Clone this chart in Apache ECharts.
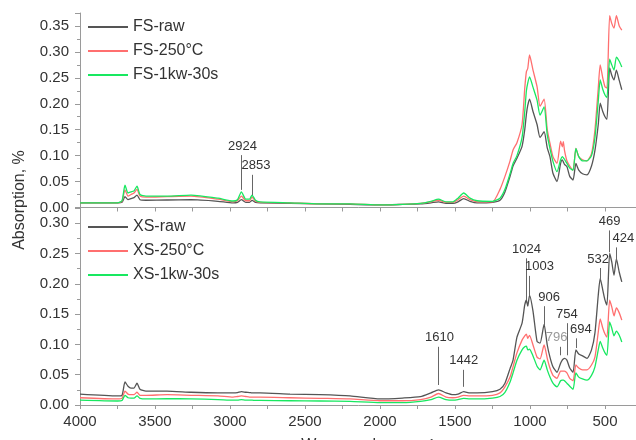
<!DOCTYPE html>
<html>
<head>
<meta charset="utf-8">
<title>FTIR</title>
<script src="https://cdn.jsdelivr.net/npm/echarts@6/dist/echarts.min.js"></script>
<style>
    html, body { margin: 0; padding: 0; background: #fff; }
    #main { width: 636px; height: 440px; }
</style>
</head>
<body>
<div id="main"></div>
<script>
    // 波数 (cm-1)
    var wn = [4000, 3750, 3720, 3700, 3680, 3660, 3640, 3620, 3600, 3560, 3420, 3260, 3080, 2980, 2950, 2924,
        2895, 2870, 2853, 2830, 2800, 2600, 2400, 2200, 2000, 1850, 1730, 1660, 1610, 1560, 1513, 1480, 1442,
        1400, 1353, 1250, 1200, 1167, 1133, 1113, 1087, 1053, 1035, 1024, 1015, 1003, 980, 953, 933, 906, 885,
        867, 847, 820, 796, 785, 778, 770, 754, 735, 713, 694, 675, 650, 620, 590, 567, 545, 532, 515, 500, 487,
        469, 455, 440, 424, 405, 388];

    // FS
    var fsRaw = [0.009, 0.009, 0.010, 0.021, 0.015, 0.017, 0.019, 0.024, 0.015, 0.014, 0.0145, 0.015, 0.012, 0.009, 0.010, 0.015,
        0.010, 0.010, 0.0136, 0.010, 0.009, 0.008, 0.007, 0.006, 0.005, 0.006, 0.007, 0.009, 0.011, 0.008, 0.008, 0.011, 0.017,
        0.012, 0.009, 0.010, 0.014, 0.030, 0.060, 0.080, 0.095, 0.118, 0.150, 0.180, 0.197, 0.209, 0.185, 0.160, 0.135, 0.146, 0.115,
        0.098, 0.066, 0.050, 0.085, 0.092, 0.088, 0.083, 0.079, 0.060, 0.053, 0.085, 0.072, 0.065, 0.063, 0.080, 0.110, 0.160, 0.201, 0.185, 0.175, 0.170,
        0.269, 0.255, 0.246, 0.265, 0.245, 0.227];
    var fs250 = [0.009, 0.009, 0.012, 0.034, 0.022, 0.025, 0.028, 0.035, 0.022, 0.020, 0.021, 0.022, 0.016, 0.011, 0.013, 0.022,
        0.013, 0.013, 0.020, 0.012, 0.010, 0.009, 0.007, 0.007, 0.005, 0.006, 0.008, 0.011, 0.014, 0.010, 0.010, 0.015, 0.022,
        0.015, 0.011, 0.011, 0.035, 0.060, 0.090, 0.111, 0.125, 0.160, 0.230, 0.262, 0.268, 0.294, 0.265, 0.233, 0.195, 0.209, 0.150,
        0.124, 0.098, 0.085, 0.128, 0.117, 0.127, 0.110, 0.090, 0.080, 0.072, 0.114, 0.098, 0.092, 0.090, 0.104, 0.150, 0.230, 0.275, 0.250, 0.233, 0.230,
        0.370, 0.355, 0.346, 0.370, 0.350, 0.342];
    var fs1kw = [0.009, 0.009, 0.013, 0.043, 0.028, 0.030, 0.032, 0.041, 0.025, 0.022, 0.022, 0.024, 0.018, 0.0125, 0.015, 0.030,
        0.016, 0.016, 0.024, 0.014, 0.011, 0.009, 0.007, 0.007, 0.005, 0.006, 0.008, 0.012, 0.016, 0.011, 0.011, 0.018, 0.028,
        0.018, 0.013, 0.012, 0.018, 0.035, 0.065, 0.085, 0.100, 0.135, 0.185, 0.225, 0.240, 0.252, 0.232, 0.207, 0.178, 0.194, 0.140,
        0.114, 0.089, 0.069, 0.092, 0.098, 0.096, 0.093, 0.085, 0.076, 0.072, 0.114, 0.098, 0.090, 0.090, 0.100, 0.135, 0.205, 0.246, 0.228, 0.217, 0.212,
        0.286, 0.275, 0.265, 0.290, 0.282, 0.271];

    // XS
    var xsRaw = [0.018, 0.015, 0.016, 0.038, 0.031, 0.028, 0.028, 0.036, 0.026, 0.023, 0.023, 0.021, 0.020, 0.020, 0.0205, 0.022,
        0.021, 0.0205, 0.020, 0.020, 0.020, 0.018, 0.017, 0.015, 0.010, 0.0115, 0.0137, 0.020, 0.025, 0.020, 0.017, 0.018, 0.022,
        0.020, 0.020, 0.022, 0.026, 0.036, 0.060, 0.074, 0.112, 0.135, 0.165, 0.173, 0.163, 0.181, 0.155, 0.105, 0.102, 0.133, 0.099,
        0.079, 0.063, 0.054, 0.069, 0.074, 0.076, 0.077, 0.074, 0.061, 0.054, 0.091, 0.084, 0.081, 0.077, 0.091, 0.119, 0.181, 0.209, 0.190, 0.173, 0.165,
        0.250, 0.236, 0.214, 0.241, 0.219, 0.203];
    var xs250 = [0.012, 0.010, 0.011, 0.023, 0.018, 0.017, 0.017, 0.021, 0.016, 0.016, 0.017, 0.016, 0.015, 0.013, 0.014, 0.015,
        0.014, 0.013, 0.013, 0.013, 0.013, 0.012, 0.011, 0.010, 0.007, 0.007, 0.009, 0.013, 0.019, 0.013, 0.012, 0.013, 0.016,
        0.015, 0.015, 0.016, 0.020, 0.030, 0.046, 0.063, 0.086, 0.107, 0.114, 0.117, 0.110, 0.115, 0.099, 0.079, 0.076, 0.099, 0.077,
        0.061, 0.049, 0.044, 0.056, 0.056, 0.056, 0.056, 0.053, 0.044, 0.040, 0.066, 0.061, 0.058, 0.058, 0.066, 0.079, 0.120, 0.142, 0.127, 0.117, 0.112,
        0.173, 0.162, 0.147, 0.160, 0.152, 0.140];
    var xs1kw = [0.008, 0.0066, 0.0075, 0.016, 0.012, 0.0115, 0.0115, 0.015, 0.011, 0.010, 0.0105, 0.010, 0.009, 0.008, 0.008, 0.009,
        0.008, 0.008, 0.008, 0.0075, 0.0075, 0.007, 0.0066, 0.006, 0.004, 0.004, 0.006, 0.009, 0.013, 0.009, 0.008, 0.009, 0.011,
        0.010, 0.010, 0.0115, 0.014, 0.021, 0.038, 0.053, 0.074, 0.091, 0.096, 0.097, 0.091, 0.092, 0.081, 0.064, 0.058, 0.074, 0.058,
        0.046, 0.036, 0.030, 0.040, 0.041, 0.041, 0.040, 0.036, 0.031, 0.026, 0.053, 0.046, 0.043, 0.041, 0.049, 0.063, 0.091, 0.105, 0.094, 0.086, 0.082,
        0.137, 0.127, 0.114, 0.122, 0.115, 0.104];

    var fsNames = ['FS-raw', 'FS-250°C', 'FS-1kw-30s'];
    var xsNames = ['XS-raw', 'XS-250°C', 'XS-1kw-30s'];

    // 峰标注: 波数, 引线上端, 引线下端
    var fsPeakWn = [2924, 2853];
    var fsPeakTop = [0.101, 0.063];
    var fsPeakBottom = [0.034, 0.024];
    var xsPeakWn = [1610, 1442, 1024, 1003, 906, 796, 754, 694, 532, 469, 424];
    var xsPeakTop = [0.096, 0.058, 0.242, 0.213, 0.163, 0.096, 0.135, 0.110, 0.226, 0.288, 0.260];
    var xsPeakBottom = [0.033, 0.030, 0.173, 0.181, 0.132, 0.082, 0.082, 0.094, 0.206, 0.252, 0.236];

    // 刻度
    var xTickLabels = [4000, 3500, 3000, 2500, 2000, 1500, 1000, 500];
    var yTickLabels = [0, 0.05, 0.10, 0.15, 0.20, 0.25, 0.30, 0.35];

    var FONT = '"Liberation Sans", Arial, sans-serif';
    var colors = ['#555555', '#ff6f6f', '#18e860'];
    var fsLabelDx = [1, 4];
    var xsLabelDx = [1, 0, 0, 10, 5, -4, 0, 5, -2, 0, 7];

    function pairs(ys) {
        return wn.map(function (w, i) {
            return [w, ys[i]];
        });
    }

    function peakLines(xs, top, bottom) {
        return xs.map(function (x, i) {
            return [{ coord: [x, top[i]] }, { coord: [x, bottom[i]] }];
        });
    }

    function peakTexts(xs, top, dx) {
        return xs.map(function (x, i) {
            return {
                name: String(x),
                coord: [x, top[i]],
                label: {
                    offset: [dx[i], -9],
                    color: x === 796 ? '#9a9a9a' : '#333'
                }
            };
        });
    }

    function lineSeries(name, ys, k, idx) {
        return {
            name: name,
            type: 'line',
            xAxisIndex: idx,
            yAxisIndex: idx,
            data: pairs(ys),
            symbol: 'none',
            smooth: 0.2,
            lineStyle: { color: colors[k], width: 1.3 },
            itemStyle: { color: colors[k] }
        };
    }

    function peakMarks(s, xs, top, bottom, dx) {
        s.markLine = {
            silent: true,
            symbol: ['none', 'none'],
            label: { show: false },
            lineStyle: { color: '#666', width: 1, type: 'solid' },
            data: peakLines(xs, top, bottom)
        };
        s.markPoint = {
            silent: true,
            symbol: 'rect',
            symbolSize: 1,
            itemStyle: { color: 'rgba(0,0,0,0)' },
            label: {
                show: true,
                position: 'inside',
                formatter: '{b}',
                fontSize: 13,
                fontFamily: FONT
            },
            data: peakTexts(xs, top, dx)
        };
        return s;
    }

    var series = [
        peakMarks(lineSeries(fsNames[0], fsRaw, 0, 0), fsPeakWn, fsPeakTop, fsPeakBottom, fsLabelDx),
        lineSeries(fsNames[1], fs250, 1, 0),
        lineSeries(fsNames[2], fs1kw, 2, 0),
        peakMarks(lineSeries(xsNames[0], xsRaw, 0, 1), xsPeakWn, xsPeakTop, xsPeakBottom, xsLabelDx),
        lineSeries(xsNames[1], xs250, 1, 1),
        lineSeries(xsNames[2], xs1kw, 2, 1)
    ];

    function yFmt(v) {
        for (var i = 0; i < yTickLabels.length; i++) {
            if (Math.abs(yTickLabels[i] - v) < 1e-6) return v.toFixed(2);
        }
        return '';
    }

    function xFmt(v) {
        return xTickLabels.indexOf(Math.round(v)) > -1 ? String(Math.round(v)) : '';
    }

    var axisGray = '#9a9a9a';

    function xAxisOf(idx, showLabel) {
        return {
            gridIndex: idx,
            type: 'value',
            inverse: true,
            min: 250,
            max: 4000,
            interval: 250,
            axisLine: { onZero: false, lineStyle: { color: axisGray } },
            axisTick: { length: 4, lineStyle: { color: axisGray } },
            axisLabel: { show: showLabel, formatter: xFmt, fontSize: 15, color: '#333', fontFamily: FONT, margin: 9 },
            splitLine: { show: false }
        };
    }

    function yAxisOf(idx, max) {
        return {
            gridIndex: idx,
            type: 'value',
            min: 0,
            max: max,
            interval: 0.05,
            axisLine: { show: true, onZero: false, lineStyle: { color: axisGray } },
            axisTick: { show: true, length: 5, lineStyle: { color: axisGray } },
            minorTick: { show: true, splitNumber: 2, length: 3, lineStyle: { color: axisGray } },
            axisLabel: { formatter: yFmt, fontSize: 15, color: '#333', fontFamily: FONT, margin: 11 },
            splitLine: { show: false },
            minorSplitLine: { show: false }
        };
    }

    function legendOf(names, top) {
        return {
            data: names,
            orient: 'vertical',
            left: 88,
            top: top,
            padding: 0,
            icon: 'rect',
            itemWidth: 40,
            itemHeight: 2,
            itemGap: 8,
            textStyle: { fontSize: 16, color: '#333', fontFamily: FONT, lineHeight: 16 }
        };
    }

    var chart = echarts.init(document.getElementById('main'));

    var option = {
        animation: false,
        backgroundColor: '#fff',
        grid: [
            { left: 80, top: 13, width: 562.5, height: 194.5, outerBoundsMode: 'none' },
            { left: 80, top: 208, width: 562.5, height: 197, outerBoundsMode: 'none' }
        ],
        xAxis: [xAxisOf(0, false), xAxisOf(1, true)],
        yAxis: [yAxisOf(0, 0.375), yAxisOf(1, 0.325)],
        legend: [legendOf(fsNames, 19), legendOf(xsNames, 219)],
        graphic: [
            {
                type: 'text',
                x: 20,
                y: 200,
                rotation: Math.PI / 2,
                style: {
                    text: 'Absorption, %',
                    fill: '#333',
                    fontSize: 16,
                    fontFamily: FONT,
                    align: 'center',
                    verticalAlign: 'middle'
                }
            },
            {
                type: 'text',
                x: 368,
                y: 438,
                style: {
                    text: '{a|Wavenumber, cm}{b|-1}',
                    fill: '#333',
                    align: 'center',
                    verticalAlign: 'top',
                    rich: {
                        a: { fontSize: 16, fontFamily: FONT, fill: '#333' },
                        b: { fontSize: 11, fontFamily: FONT, fill: '#333', verticalAlign: 'top' }
                    }
                }
            }
        ],
        series: series
    };

    chart.setOption(option);
</script>
</body>
</html>
